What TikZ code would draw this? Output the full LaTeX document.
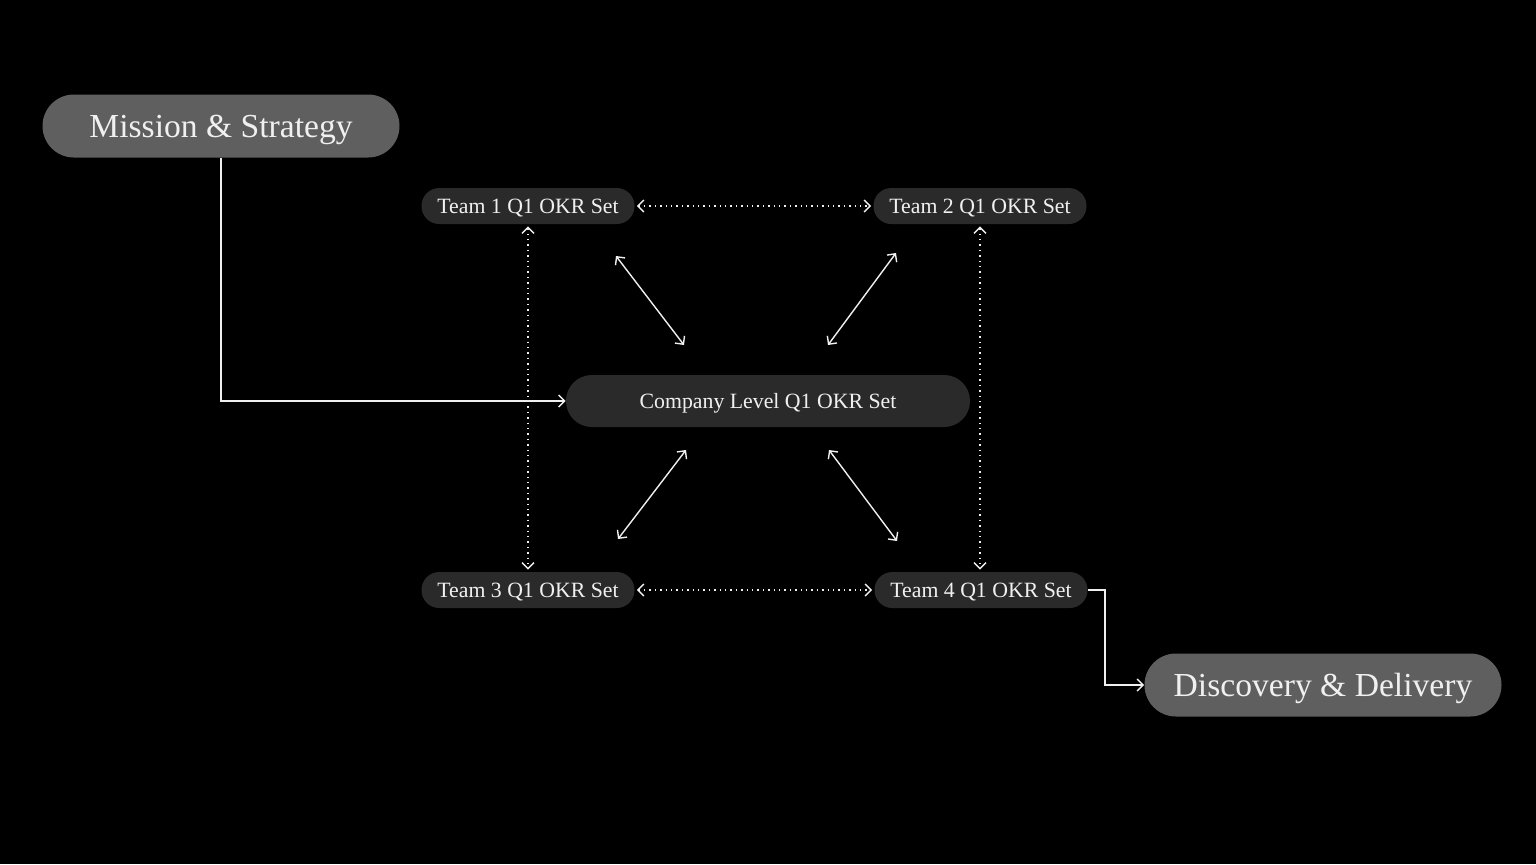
\documentclass[tikz,border=0pt]{standalone}
\usepackage{fontspec}
\setmainfont{Liberation Serif}
\usetikzlibrary{arrows.meta, positioning}
\definecolor{mypillgray}{RGB}{95, 95, 95}
\definecolor{mydarkgray}{RGB}{42, 42, 42}
\definecolor{mytextwhite}{RGB}{240, 240, 240}

\begin{document}
\begin{tikzpicture}[
            x=0.5pt, y=-0.5pt,
            box/.style={
                rectangle,
                rounded corners=#1,
                text=mytextwhite,
                inner sep=0pt,
                text depth=0pt,
                align=center
            },
            bigbox/.style={box=15.7pt, fill=mypillgray, minimum width=178.5pt, minimum height=31.5pt, font=\fontsize{16.8}{20}\selectfont},
            teambox/.style={box=8.9pt, fill=mydarkgray, minimum width=106.5pt, minimum height=18pt, font=\fontsize{10.9}{13}\selectfont},
            companybox/.style={box=12.9pt, fill=mydarkgray, minimum width=202pt, minimum height=26pt, font=\fontsize{10.9}{13}\selectfont},
            link/.style={draw=mytextwhite, line width=0.7pt},
            onearrow/.style={link, -{Straight Barb[length=3pt, width=6pt]}},
            twoarrow/.style={link, {Straight Barb[length=3pt, width=6pt]}-{Straight Barb[length=3pt, width=6pt]}},
            dotarrow/.style={twoarrow, dotted, shorten <=1pt, shorten >=1pt}
        ]

            % Background
            \fill[black] (0,0) rectangle (1536,864);
            \useasboundingbox (0,0) rectangle (1536,864);

            % Nodes
            \node[bigbox] (mission) at (221,126) {Mission \& Strategy};
            \node[teambox] (team1) at (528,206) {Team 1 Q1 OKR Set};
            \node[teambox] (team2) at (980,206) {Team 2 Q1 OKR Set};
            \node[companybox] (company) at (768,401) {Company Level Q1 OKR Set};
            \node[teambox] (team3) at (528,590) {Team 3 Q1 OKR Set};
            \node[teambox] (team4) at (981,590) {Team 4 Q1 OKR Set};
            \node[bigbox] (discovery) at (1323,685) {Discovery \& Delivery};

            % Free ends of the diagonal arrows
            \coordinate (nw1) at (616,256);
            \coordinate (nw2) at (684,345);
            \coordinate (ne1) at (896,253);
            \coordinate (ne2) at (828,345);
            \coordinate (sw1) at (686,450);
            \coordinate (sw2) at (618,539);
            \coordinate (se1) at (829,450);
            \coordinate (se2) at (897,541);

            % Arrows
            \draw[onearrow] (mission.south) |- (company.west);
            \draw[onearrow] (team4.east) -- ++(17,0) |- (discovery.west);

            \draw[dotarrow] (team1.east) -- (team2.west);
            \draw[dotarrow] (team3.east) -- (team4.west);
            \draw[dotarrow] (team1.south) -- (team3.north);
            \draw[dotarrow] (team2.south) -- (team2.south |- team4.north);

            \draw[twoarrow] (nw1) -- (nw2);
            \draw[twoarrow] (ne1) -- (ne2);
            \draw[twoarrow] (sw1) -- (sw2);
            \draw[twoarrow] (se1) -- (se2);
        \end{tikzpicture}
\end{document}
